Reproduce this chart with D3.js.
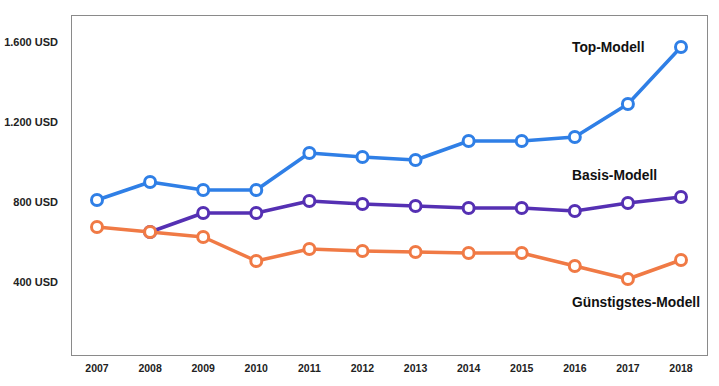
<!DOCTYPE html>
<html lang="de">
  <head>
    <meta charset="utf-8">
    <title>Preise</title>
    <style>
      body { margin: 0; background: #fff; }
      text { font-family: "Liberation Sans", Arial, sans-serif; }
    </style>
    <script src="https://cdn.jsdelivr.net/npm/d3@7"></script>
  </head>
  <body>
    <div id="viz"></div>
    <script>

    var years = [2007, 2008, 2009, 2010, 2011, 2012, 2013, 2014, 2015, 2016, 2017, 2018];
    var topModell = [810, 900, 860, 860, 1045, 1025, 1010, 1105, 1105, 1125, 1290, 1575];
    var basisModell = [null, 650, 745, 745, 805, 790, 780, 770, 770, 755, 795, 825];
    var guenstigModell = [675, 650, 625, 505, 565, 555, 550, 545, 545, 480, 415, 510];
    var yTicks = [400, 800, 1200, 1600];

    var series = [
      { name: 'Top-Modell', values: topModell, color: '#2f7fe6', labelY: 52 },
      { name: 'Basis-Modell', values: basisModell, color: '#5530b3', labelY: 180 },
      { name: 'Günstigstes-Modell', values: guenstigModell, color: '#f07a45', labelY: 307 }
    ];

    var width = 719, height = 386;
    var frameLeft = 71, frameRight = 707, frameTop = 15, frameBottom = 355;

    var svg = d3.select('#viz')
        .append('svg')
        .attr('width', width)
        .attr('height', height);

    var x = d3.scalePoint()
        .domain(years)
        .range([97, 681]);

    // 400 -> 282, 1600 -> 42
    var y = d3.scaleLinear()
        .domain([400, 1600])
        .range([282, 42]);

    // frame
    svg.append('rect')
        .attr('x', frameLeft + 0.5)
        .attr('y', frameTop + 0.5)
        .attr('width', frameRight - frameLeft)
        .attr('height', frameBottom - frameTop)
        .attr('fill', 'none')
        .attr('stroke', '#8a8a8a')
        .attr('stroke-width', 1);

    // y labels
    svg.append('g')
      .selectAll('text')
      .data(yTicks)
      .enter()
      .append('text')
        .attr('x', 58)
        .attr('y', function(d) { return y(d); })
        .attr('dy', '0.35em')
        .attr('text-anchor', 'end')
        .attr('font-size', 11)
        .attr('font-weight', 'bold')
        .attr('fill', '#222')
        .text(function(d) { return d3.format(',')(d).replace(',', '.') + ' USD'; });

    // x labels
    svg.append('g')
      .selectAll('text')
      .data(years)
      .enter()
      .append('text')
        .attr('x', function(d) { return x(d); })
        .attr('y', 368)
        .attr('dy', '0.35em')
        .attr('text-anchor', 'middle')
        .attr('font-size', 10.5)
        .attr('font-weight', 'bold')
        .attr('fill', '#222')
        .text(function(d) { return d; });

    var line = d3.line()
        .defined(function(d) { return d.v != null; })
        .x(function(d) { return x(d.year); })
        .y(function(d) { return y(d.v); });

    // draw order: top, basis, then orange on top
    series.forEach(function(s) {
      var pts = years.map(function(yr, i) { return { year: yr, v: s.values[i] }; });
      var g = svg.append('g');
      g.append('path')
          .datum(pts)
          .attr('d', line)
          .attr('fill', 'none')
          .attr('stroke', s.color)
          .attr('stroke-width', 3.5)
          .attr('stroke-linejoin', 'round');
      g.selectAll('circle')
          .data(pts.filter(function(d) { return d.v != null; }))
          .enter()
          .append('circle')
            .attr('cx', function(d) { return x(d.year); })
            .attr('cy', function(d) { return y(d.v); })
            .attr('r', 5.5)
            .attr('fill', '#fff')
            .attr('stroke', s.color)
            .attr('stroke-width', 3);
      svg.append('text')
          .attr('x', 572)
          .attr('y', s.labelY)
          .attr('font-size', 13.8)
          .attr('font-weight', 'bold')
          .attr('fill', '#111')
          .text(s.name);
    });
    </script>
  </body>
</html>
